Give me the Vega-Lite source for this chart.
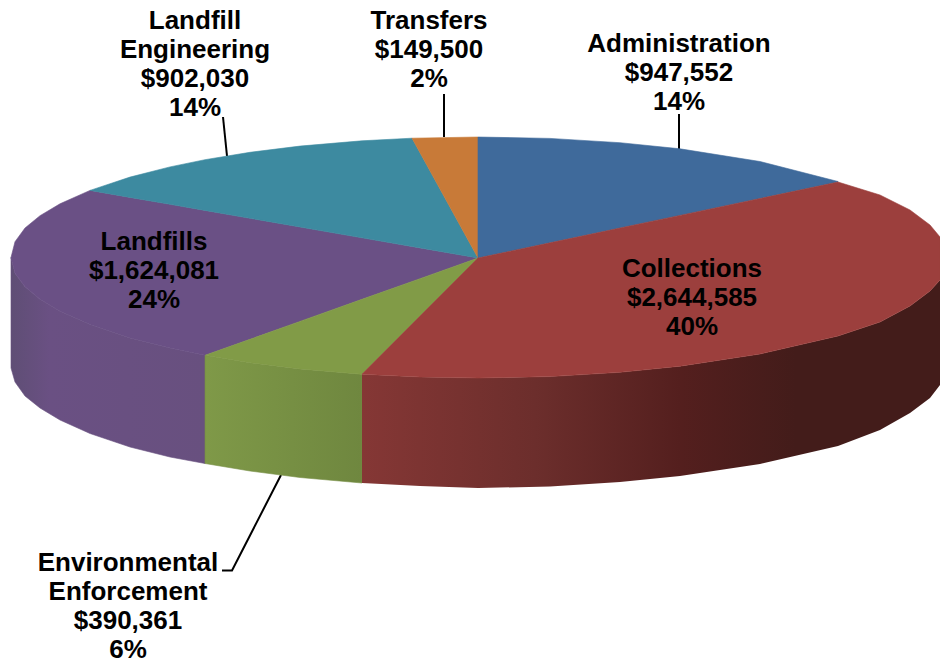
{
"$schema":"https://vega.github.io/schema/vega-lite/v6.json",
"width":940,"height":663,"padding":0,
"autosize":{"type":"none"},
"background":"white",
"config":{"view":{"stroke":null}},
"datasets":{
"slices":[
{"slice":"Administration","value":947552,"share":14,"label":"Administration\n$947,552\n14%","lx":679,"ly":52},
{"slice":"Collections","value":2644585,"share":40,"label":"Collections\n $2,644,585\n40%","lx":692,"ly":277},
{"slice":"Environmental Enforcement","value":390361,"share":6,"label":"Environmental\nEnforcement\n$390,361\n6%","lx":128,"ly":571},
{"slice":"Landfills","value":1624081,"share":24,"label":"Landfills\n$1,624,081\n24%","lx":154,"ly":250},
{"slice":"Landfill Engineering","value":902030,"share":14,"label":"Landfill\nEngineering\n$902,030\n14%","lx":195,"ly":29},
{"slice":"Transfers","value":149500,"share":2,"label":"Transfers\n$149,500\n2%","lx":429,"ly":29}
],
"sides":[
{"slice":"Landfills","x":11,"y":257.5,"y2":368},
{"slice":"Landfills","x":15,"y":273.3,"y2":382},
{"slice":"Landfills","x":25,"y":286.8,"y2":396},
{"slice":"Landfills","x":40,"y":299.3,"y2":408},
{"slice":"Landfills","x":60,"y":311.2,"y2":420},
{"slice":"Landfills","x":90,"y":324.6,"y2":433.5},
{"slice":"Landfills","x":130,"y":337.9,"y2":447},
{"slice":"Landfills","x":170,"y":348.1,"y2":457},
{"slice":"Landfills","x":205,"y":355.3,"y2":463.5},
{"slice":"Environmental Enforcement","x":205,"y":355.3,"y2":463.5},
{"slice":"Environmental Enforcement","x":250,"y":362.7,"y2":471},
{"slice":"Environmental Enforcement","x":300,"y":368.9,"y2":477.5},
{"slice":"Environmental Enforcement","x":362,"y":374.2,"y2":483},
{"slice":"Collections","x":362,"y":374.2,"y2":483},
{"slice":"Collections","x":420,"y":377,"y2":486},
{"slice":"Collections","x":478,"y":378,"y2":488},
{"slice":"Collections","x":550,"y":376.6,"y2":486.5},
{"slice":"Collections","x":620,"y":372.3,"y2":482},
{"slice":"Collections","x":680,"y":366.2,"y2":476},
{"slice":"Collections","x":760,"y":354,"y2":464},
{"slice":"Collections","x":838,"y":336,"y2":446},
{"slice":"Collections","x":880,"y":322,"y2":430},
{"slice":"Collections","x":910,"y":306,"y2":413},
{"slice":"Collections","x":930,"y":291,"y2":398},
{"slice":"Collections","x":940,"y":280,"y2":385}
],
"tops":[
{"slice":"Landfills","x":11,"y":257.5,"y2":257.5},
{"slice":"Landfills","x":15,"y":241.7,"y2":273.3},
{"slice":"Landfills","x":25,"y":228,"y2":286.8},
{"slice":"Landfills","x":40,"y":215.7,"y2":299.3},
{"slice":"Landfills","x":60,"y":203.8,"y2":311.2},
{"slice":"Landfills","x":90,"y":190.4,"y2":324.6},
{"slice":"Landfills","x":130,"y":197.4,"y2":337.9},
{"slice":"Landfills","x":170,"y":204.3,"y2":348.1},
{"slice":"Landfills","x":205,"y":210.4,"y2":355.3},
{"slice":"Landfills","x":250,"y":218.3,"y2":339.3},
{"slice":"Landfills","x":300,"y":227,"y2":321.4},
{"slice":"Landfills","x":362,"y":237.8,"y2":299.3},
{"slice":"Landfills","x":420,"y":247.9,"y2":278.7},
{"slice":"Landfills","x":478,"y":258,"y2":258},
{"slice":"Landfill Engineering","x":90,"y":190.4,"y2":190.4},
{"slice":"Landfill Engineering","x":130,"y":177.1,"y2":197.4},
{"slice":"Landfill Engineering","x":170,"y":166.9,"y2":204.3},
{"slice":"Landfill Engineering","x":205,"y":159.7,"y2":210.4},
{"slice":"Landfill Engineering","x":250,"y":152.3,"y2":218.3},
{"slice":"Landfill Engineering","x":300,"y":146.1,"y2":227},
{"slice":"Landfill Engineering","x":362,"y":140.8,"y2":237.8},
{"slice":"Landfill Engineering","x":412,"y":138.2,"y2":246.5},
{"slice":"Landfill Engineering","x":478,"y":258,"y2":258},
{"slice":"Transfers","x":412,"y":138.2,"y2":138.2},
{"slice":"Transfers","x":478,"y":137,"y2":258},
{"slice":"Environmental Enforcement","x":205,"y":355.3,"y2":355.3},
{"slice":"Environmental Enforcement","x":250,"y":339.3,"y2":362.7},
{"slice":"Environmental Enforcement","x":300,"y":321.4,"y2":368.9},
{"slice":"Environmental Enforcement","x":362,"y":299.3,"y2":374.2},
{"slice":"Environmental Enforcement","x":420,"y":278.7,"y2":316.1},
{"slice":"Environmental Enforcement","x":478,"y":258,"y2":258},
{"slice":"Administration","x":478,"y":137,"y2":258},
{"slice":"Administration","x":550,"y":138.4,"y2":242.8},
{"slice":"Administration","x":620,"y":142.7,"y2":228},
{"slice":"Administration","x":680,"y":148.8,"y2":215.4},
{"slice":"Administration","x":760,"y":161.5,"y2":198.5},
{"slice":"Administration","x":838,"y":181.5,"y2":182},
{"slice":"Collections","x":362,"y":374.2,"y2":374.2},
{"slice":"Collections","x":420,"y":316.1,"y2":377},
{"slice":"Collections","x":478,"y":258,"y2":378},
{"slice":"Collections","x":550,"y":242.8,"y2":376.6},
{"slice":"Collections","x":620,"y":228,"y2":372.3},
{"slice":"Collections","x":680,"y":215.4,"y2":366.2},
{"slice":"Collections","x":760,"y":198.5,"y2":354},
{"slice":"Collections","x":838,"y":182,"y2":336},
{"slice":"Collections","x":880,"y":195,"y2":322},
{"slice":"Collections","x":910,"y":210,"y2":306},
{"slice":"Collections","x":930,"y":225,"y2":291},
{"slice":"Collections","x":940,"y":237,"y2":280}
],
"leaders":[
{"slice":"Administration","x":679,"y":114,"step":1},
{"slice":"Administration","x":679,"y":149,"step":2},
{"slice":"Transfers","x":444,"y":94,"step":1},
{"slice":"Transfers","x":444,"y":137,"step":2},
{"slice":"Landfill Engineering","x":223,"y":117,"step":1},
{"slice":"Landfill Engineering","x":227,"y":156,"step":2},
{"slice":"Environmental Enforcement","x":222,"y":570.5,"step":1},
{"slice":"Environmental Enforcement","x":232,"y":570.5,"step":2},
{"slice":"Environmental Enforcement","x":281,"y":475,"step":3}
]
},
"encoding":{
"x":{"field":"x","type":"quantitative","scale":{"domain":[0,940],"nice":false,"zero":false},"axis":null},
"y":{"field":"y","type":"quantitative","scale":{"domain":[663,0],"nice":false,"zero":false},"axis":null}
},
"layer":[
{"data":{"name":"leaders"},
 "mark":{"type":"line","color":"black","strokeWidth":2},
 "encoding":{"detail":{"field":"slice"},"order":{"field":"step","type":"quantitative"}}},
{"data":{"name":"sides"},"transform":[{"filter":"datum.slice==='Landfills'"}],
 "mark":{"type":"area","strokeWidth":0.6,"stroke":"#68507f","fill":{"gradient":"linear","x1":0,"y1":0,"x2":1,"y2":0,"stops":[{"offset":0,"color":"#5f4e75"},{"offset":0.2,"color":"#6a5083"},{"offset":1,"color":"#68507f"}]}},
 "encoding":{"y2":{"field":"y2"}}},
{"data":{"name":"sides"},"transform":[{"filter":"datum.slice==='Environmental Enforcement'"}],
 "mark":{"type":"area","strokeWidth":0.6,"stroke":"#778f44","fill":{"gradient":"linear","x1":0,"y1":0,"x2":1,"y2":0,"stops":[{"offset":0,"color":"#7f9948"},{"offset":1,"color":"#6f873f"}]}},
 "encoding":{"y2":{"field":"y2"}}},
{"data":{"name":"sides"},"transform":[{"filter":"datum.slice==='Collections'"}],
 "mark":{"type":"area","fill":{"gradient":"linear","x1":0,"y1":0,"x2":1,"y2":0,"stops":[{"offset":0,"color":"#853735"},{"offset":0.3,"color":"#6c2e2c"},{"offset":0.55,"color":"#541f1e"},{"offset":0.75,"color":"#431c1a"},{"offset":1,"color":"#431c1a"}]}},
 "encoding":{"y2":{"field":"y2"}}},
{"data":{"name":"tops"},
 "mark":{"type":"area","strokeWidth":0.6},
 "encoding":{
  "y2":{"field":"y2"},
  "color":{"field":"slice","type":"nominal","legend":null,"scale":{"domain":["Administration","Collections","Environmental Enforcement","Landfills","Landfill Engineering","Transfers"],"range":["#3f6a9b","#9c3f3d","#819b47","#6a5085","#3d8aa0","#c87a38"]}},
  "stroke":{"field":"slice","type":"nominal","legend":null,"scale":{"domain":["Administration","Collections","Environmental Enforcement","Landfills","Landfill Engineering","Transfers"],"range":["#3f6a9b","#9c3f3d","#819b47","#6a5085","#3d8aa0","#c87a38"]}}
 }},
{"data":{"name":"slices"},
 "mark":{"type":"text","font":"Liberation Sans","fontWeight":"bold","fontSize":26,"color":"black","align":"center","baseline":"alphabetic","lineBreak":"\n","lineHeight":29},
 "encoding":{
  "x":{"field":"lx","type":"quantitative"},
  "y":{"field":"ly","type":"quantitative"},
  "text":{"field":"label","type":"nominal"}
 }}
]
}
